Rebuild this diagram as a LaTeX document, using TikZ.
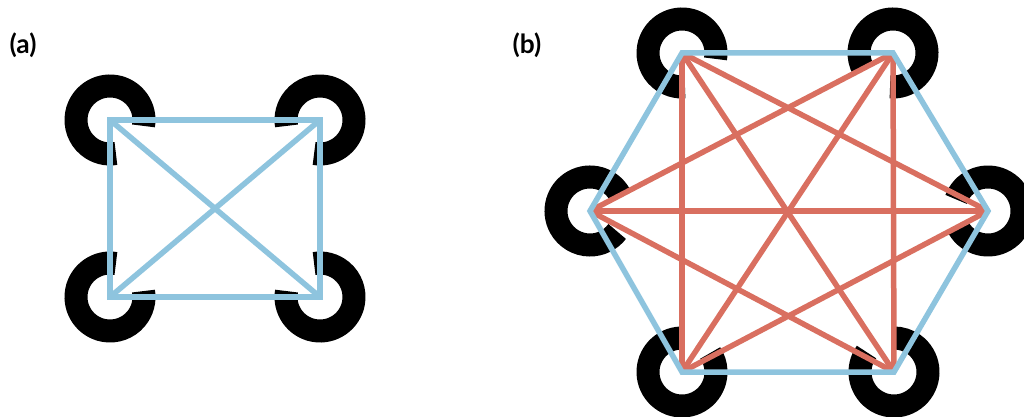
\documentclass[tikz,border=0pt]{standalone}
\usepackage{fontspec}
\setmainfont{Lato}
\usetikzlibrary{positioning,calc}

\definecolor{linkblue}{RGB}{142,196,222}
\definecolor{linkred}{RGB}{217,111,96}

\begin{document}
\begin{tikzpicture}
[x=0.02cm,y=0.02cm,
ring/.style={line width=0.46cm,black,line cap=butt},
nnedge/.style={line width=0.11cm,linkblue,line join=miter},
faredge/.style={line width=0.11cm,linkred},
lab/.style={font=\fontsize{15}{17}\selectfont\bfseries,inner sep=0pt}]
\useasboundingbox (0,0) rectangle (1024,416);
\def \rr {34}
%%%%%%%%%%
%%%%% (a) square
\node (laba) [lab] at (23,371) {(a)};
%% sites
\coordinate (a1) at (110,296);
\coordinate (a2) at (320,296);
\coordinate (a3) at (320,119);
\coordinate (a4) at (110,119);
%% atoms, opened towards the middle
\draw[ring] (a1) ++(-10:\rr) arc[start angle=-10, end angle=280, radius=\rr];
\draw[ring] (a2) ++(260:\rr) arc[start angle=260, end angle=550, radius=\rr];
\draw[ring] (a3) ++(170:\rr) arc[start angle=170, end angle=460, radius=\rr];
\draw[ring] (a4) ++(80:\rr) arc[start angle=80, end angle=370, radius=\rr];
%% edges
\draw[nnedge] (a1) -- (a2) -- (a3) -- (a4) -- cycle;
\draw[nnedge] (a1) -- (a3);
\draw[nnedge] (a2) -- (a4);
%%%%%%%%%%
%%%%% (b) hexagon
\node (labb) [lab] at (527,371) {(b)};
%% sites
\coordinate (b1) at (682,363);
\coordinate (b2) at (893,363);
\coordinate (b3) at (988,205);
\coordinate (b4) at (894,44);
\coordinate (b5) at (682,44);
\coordinate (b6) at (590,205);
%% atoms
\draw[ring] (b1) ++(-10:\rr) arc[start angle=-10, end angle=275, radius=\rr];
\draw[ring] (b2) ++(-95:\rr) arc[start angle=-95, end angle=210, radius=\rr];
\draw[ring] (b3) ++(205:\rr) arc[start angle=205, end angle=520, radius=\rr];
\draw[ring] (b4) ++(144:\rr) arc[start angle=144, end angle=450, radius=\rr];
\draw[ring] (b5) ++(92:\rr) arc[start angle=92, end angle=394, radius=\rr];
\draw[ring] (b6) ++(29:\rr) arc[start angle=29, end angle=323, radius=\rr];
%% long-range edges
\draw[faredge] (b1) -- (b3);
\draw[faredge] (b1) -- (b4);
\draw[faredge] (b1) -- (b5);
\draw[faredge] (b2) -- (b4);
\draw[faredge] (b2) -- (b5);
\draw[faredge] (b2) -- (b6);
\draw[faredge] (b3) -- (b5);
\draw[faredge] (b3) -- (b6);
\draw[faredge] (b4) -- (b6);
%% nearest neighbours
\draw[nnedge] (b1) -- (b2) -- (b3) -- (b4) -- (b5) -- (b6) -- cycle;
\end{tikzpicture}
\end{document}
